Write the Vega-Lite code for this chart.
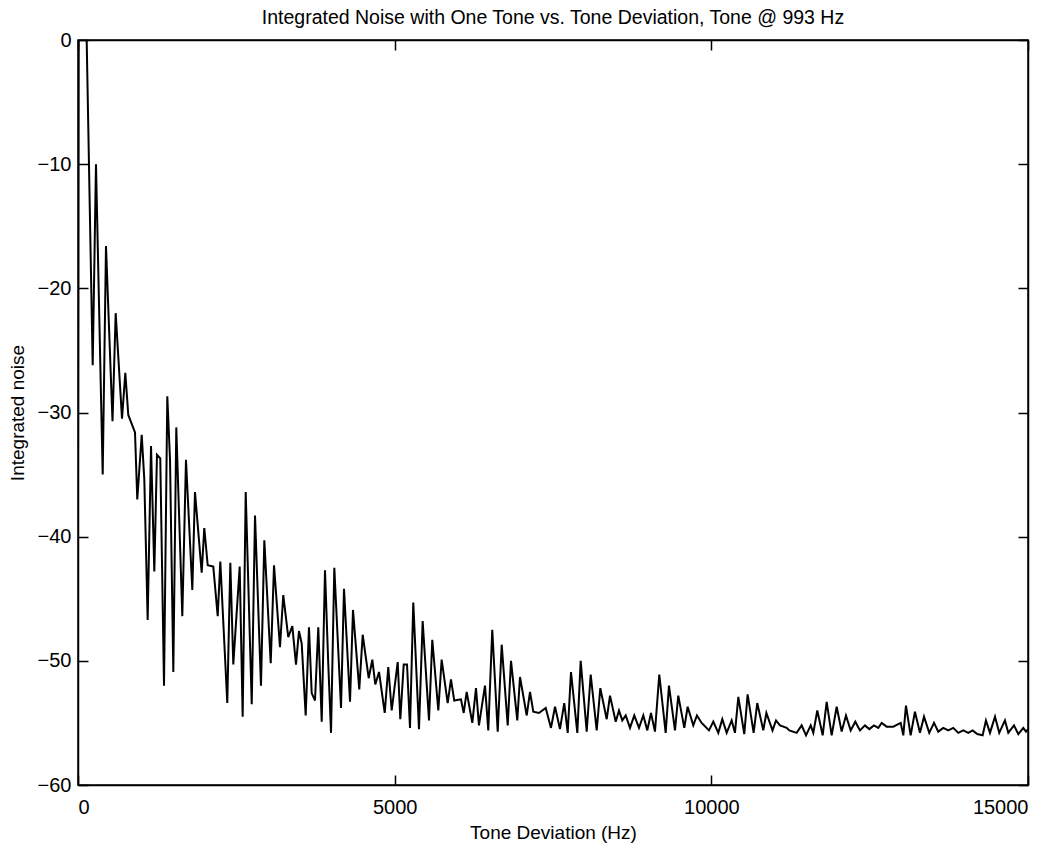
{
  "$schema": "https://vega.github.io/schema/vega-lite/v6.json",
  "width": 950,
  "height": 745,
  "autosize": "none",
  "padding": {"left": 78, "top": 40, "right": 35, "bottom": 59},
  "background": "white",
  "title": {"text": "Integrated Noise with One Tone vs. Tone Deviation, Tone @ 993 Hz", "font": "Liberation Sans", "fontSize": 19.5, "fontWeight": "normal", "color": "black", "baseline": "alphabetic", "offset": -13, "anchor": "middle"},
  "config": {
    "view": {"stroke": "black", "strokeWidth": 1.5},
    "axis": {"grid": false, "domainColor": "black", "domainWidth": 1.5, "tickColor": "black", "tickWidth": 1.5, "tickSize": -10, "labelFont": "Liberation Sans", "labelFontSize": 20, "labelColor": "black", "titleFont": "Liberation Sans", "titleFontSize": 19, "titleFontWeight": "normal", "titleColor": "black"}
  },
  "data": {"values": [
    {"f": 0, "n": -36.3}, {"f": 10, "n": 0}, {"f": 137, "n": 0}, {"f": 232, "n": -26.2}, {"f": 284, "n": -10.0},
    {"f": 390, "n": -35.0}, {"f": 442, "n": -16.6}, {"f": 545, "n": -30.7}, {"f": 595, "n": -22.0}, {"f": 695, "n": -30.5},
    {"f": 747, "n": -26.8}, {"f": 794, "n": -30.2}, {"f": 900, "n": -31.6}, {"f": 936, "n": -37.0}, {"f": 1006, "n": -31.8},
    {"f": 1047, "n": -35.4}, {"f": 1100, "n": -46.7}, {"f": 1153, "n": -32.7}, {"f": 1205, "n": -42.8}, {"f": 1247, "n": -33.4},
    {"f": 1299, "n": -33.7}, {"f": 1358, "n": -52.0}, {"f": 1410, "n": -28.7}, {"f": 1453, "n": -33.8}, {"f": 1505, "n": -50.9},
    {"f": 1552, "n": -31.2}, {"f": 1647, "n": -46.4}, {"f": 1705, "n": -33.8}, {"f": 1805, "n": -44.3}, {"f": 1847, "n": -36.4},
    {"f": 1953, "n": -42.9}, {"f": 1994, "n": -39.3}, {"f": 2048, "n": -42.3}, {"f": 2136, "n": -42.4}, {"f": 2206, "n": -46.4},
    {"f": 2247, "n": -42.0}, {"f": 2357, "n": -53.4}, {"f": 2405, "n": -42.1}, {"f": 2452, "n": -50.3}, {"f": 2553, "n": -42.4},
    {"f": 2600, "n": -54.5}, {"f": 2648, "n": -36.4}, {"f": 2743, "n": -53.5}, {"f": 2795, "n": -38.3}, {"f": 2889, "n": -52.0},
    {"f": 2942, "n": -40.3}, {"f": 3043, "n": -50.2}, {"f": 3095, "n": -42.3}, {"f": 3189, "n": -48.9}, {"f": 3241, "n": -44.7},
    {"f": 3320, "n": -48.1}, {"f": 3384, "n": -47.2}, {"f": 3442, "n": -50.3}, {"f": 3489, "n": -47.6}, {"f": 3532, "n": -48.6},
    {"f": 3595, "n": -54.4}, {"f": 3647, "n": -47.3}, {"f": 3690, "n": -52.6}, {"f": 3742, "n": -53.2}, {"f": 3794, "n": -47.3},
    {"f": 3848, "n": -54.9}, {"f": 3900, "n": -42.7}, {"f": 3952, "n": -50.3}, {"f": 3995, "n": -55.8}, {"f": 4047, "n": -42.5},
    {"f": 4153, "n": -53.8}, {"f": 4200, "n": -44.2}, {"f": 4295, "n": -53.3}, {"f": 4342, "n": -45.9}, {"f": 4441, "n": -52.3},
    {"f": 4495, "n": -47.9}, {"f": 4590, "n": -51.4}, {"f": 4647, "n": -49.9}, {"f": 4694, "n": -51.9}, {"f": 4753, "n": -50.9},
    {"f": 4843, "n": -54.2}, {"f": 4899, "n": -50.5}, {"f": 4953, "n": -54.0}, {"f": 5048, "n": -50.1}, {"f": 5089, "n": -54.7},
    {"f": 5143, "n": -50.3}, {"f": 5195, "n": -50.3}, {"f": 5242, "n": -55.4}, {"f": 5294, "n": -45.3}, {"f": 5384, "n": -55.5},
    {"f": 5442, "n": -46.8}, {"f": 5542, "n": -54.8}, {"f": 5594, "n": -48.3}, {"f": 5689, "n": -54.0}, {"f": 5742, "n": -49.9},
    {"f": 5837, "n": -53.4}, {"f": 5889, "n": -51.5}, {"f": 5941, "n": -53.2}, {"f": 6047, "n": -53.1}, {"f": 6090, "n": -54.2},
    {"f": 6137, "n": -52.5}, {"f": 6226, "n": -55.0}, {"f": 6284, "n": -52.2}, {"f": 6331, "n": -55.2}, {"f": 6426, "n": -52.0},
    {"f": 6478, "n": -55.6}, {"f": 6541, "n": -47.5}, {"f": 6627, "n": -55.7}, {"f": 6690, "n": -48.7}, {"f": 6785, "n": -55.2},
    {"f": 6837, "n": -50.0}, {"f": 6936, "n": -54.8}, {"f": 6979, "n": -51.3}, {"f": 7085, "n": -54.4}, {"f": 7137, "n": -52.5},
    {"f": 7189, "n": -54.1}, {"f": 7279, "n": -54.2}, {"f": 7385, "n": -53.8}, {"f": 7468, "n": -55.4}, {"f": 7532, "n": -53.7},
    {"f": 7610, "n": -55.5}, {"f": 7678, "n": -53.4}, {"f": 7732, "n": -55.8}, {"f": 7784, "n": -50.9}, {"f": 7884, "n": -55.8},
    {"f": 7937, "n": -50.0}, {"f": 8032, "n": -55.7}, {"f": 8095, "n": -51.1}, {"f": 8190, "n": -55.6}, {"f": 8247, "n": -52.2},
    {"f": 8348, "n": -54.7}, {"f": 8400, "n": -52.8}, {"f": 8490, "n": -54.9}, {"f": 8542, "n": -54.0}, {"f": 8594, "n": -54.8},
    {"f": 8648, "n": -54.4}, {"f": 8716, "n": -55.4}, {"f": 8783, "n": -54.4}, {"f": 8858, "n": -55.4}, {"f": 8926, "n": -54.4},
    {"f": 8989, "n": -55.6}, {"f": 9047, "n": -54.2}, {"f": 9110, "n": -55.7}, {"f": 9178, "n": -51.1}, {"f": 9279, "n": -55.8},
    {"f": 9331, "n": -52.0}, {"f": 9426, "n": -55.6}, {"f": 9478, "n": -52.8}, {"f": 9573, "n": -55.4}, {"f": 9626, "n": -53.7},
    {"f": 9715, "n": -55.2}, {"f": 9773, "n": -54.4}, {"f": 9847, "n": -55.0}, {"f": 9963, "n": -55.6}, {"f": 10031, "n": -54.9},
    {"f": 10110, "n": -55.8}, {"f": 10173, "n": -54.7}, {"f": 10242, "n": -55.8}, {"f": 10321, "n": -54.8}, {"f": 10373, "n": -55.8},
    {"f": 10426, "n": -52.9}, {"f": 10520, "n": -55.9}, {"f": 10573, "n": -52.7}, {"f": 10668, "n": -55.8}, {"f": 10725, "n": -53.4},
    {"f": 10820, "n": -55.6}, {"f": 10869, "n": -54.2}, {"f": 10966, "n": -55.6}, {"f": 11021, "n": -54.8}, {"f": 11084, "n": -55.2},
    {"f": 11190, "n": -55.4}, {"f": 11231, "n": -55.6}, {"f": 11347, "n": -55.8}, {"f": 11426, "n": -55.2}, {"f": 11495, "n": -56.0},
    {"f": 11569, "n": -55.2}, {"f": 11610, "n": -55.8}, {"f": 11673, "n": -54.0}, {"f": 11758, "n": -56.0}, {"f": 11821, "n": -53.3},
    {"f": 11900, "n": -56.0}, {"f": 11979, "n": -53.7}, {"f": 12058, "n": -55.7}, {"f": 12126, "n": -54.4}, {"f": 12200, "n": -55.6},
    {"f": 12273, "n": -54.9}, {"f": 12347, "n": -55.6}, {"f": 12426, "n": -55.2}, {"f": 12494, "n": -55.5}, {"f": 12568, "n": -55.2},
    {"f": 12636, "n": -55.4}, {"f": 12690, "n": -55.0}, {"f": 12768, "n": -55.3}, {"f": 12873, "n": -55.3}, {"f": 12990, "n": -55.0},
    {"f": 13031, "n": -56.0}, {"f": 13073, "n": -53.6}, {"f": 13147, "n": -56.0}, {"f": 13215, "n": -54.1}, {"f": 13294, "n": -55.8},
    {"f": 13358, "n": -54.5}, {"f": 13441, "n": -55.8}, {"f": 13516, "n": -55.0}, {"f": 13583, "n": -55.7}, {"f": 13662, "n": -55.4},
    {"f": 13741, "n": -55.6}, {"f": 13820, "n": -55.4}, {"f": 13899, "n": -55.8}, {"f": 13978, "n": -55.6}, {"f": 14057, "n": -55.8},
    {"f": 14126, "n": -55.6}, {"f": 14199, "n": -55.9}, {"f": 14284, "n": -56.0}, {"f": 14336, "n": -54.8}, {"f": 14400, "n": -55.8},
    {"f": 14479, "n": -54.5}, {"f": 14546, "n": -55.8}, {"f": 14636, "n": -54.8}, {"f": 14689, "n": -55.8}, {"f": 14779, "n": -55.2},
    {"f": 14847, "n": -55.9}, {"f": 14926, "n": -55.4}, {"f": 14968, "n": -55.7}, {"f": 15000, "n": -55.5}
  ]},
  "layer": [
    {
      "mark": {"type": "line", "color": "black", "strokeWidth": 2, "clip": true},
      "encoding": {
        "x": {"field": "f", "type": "quantitative", "scale": {"domain": [0, 15000], "nice": false, "zero": false},
              "axis": {"values": [0, 5000, 10000, 15000], "format": "d", "title": "Tone Deviation (Hz)", "labelPadding": 22, "titlePadding": 6}},
        "y": {"field": "n", "type": "quantitative", "scale": {"domain": [-60, 0], "nice": false},
              "axis": {"values": [-60, -50, -40, -30, -20, -10, 0], "title": "Integrated noise", "labelPadding": 17, "titlePadding": 10}}
      }
    },
    {
      "mark": {"type": "line", "strokeOpacity": 0},
      "encoding": {
        "x": {"field": "f", "type": "quantitative", "axis": {"orient": "top", "values": [0, 5000, 10000, 15000], "labels": false, "title": null}},
        "y": {"field": "n", "type": "quantitative", "axis": {"orient": "right", "values": [-60, -50, -40, -30, -20, -10, 0], "labels": false, "title": null}}
      }
    }
  ],
  "resolve": {"axis": {"x": "independent", "y": "independent"}}
}
